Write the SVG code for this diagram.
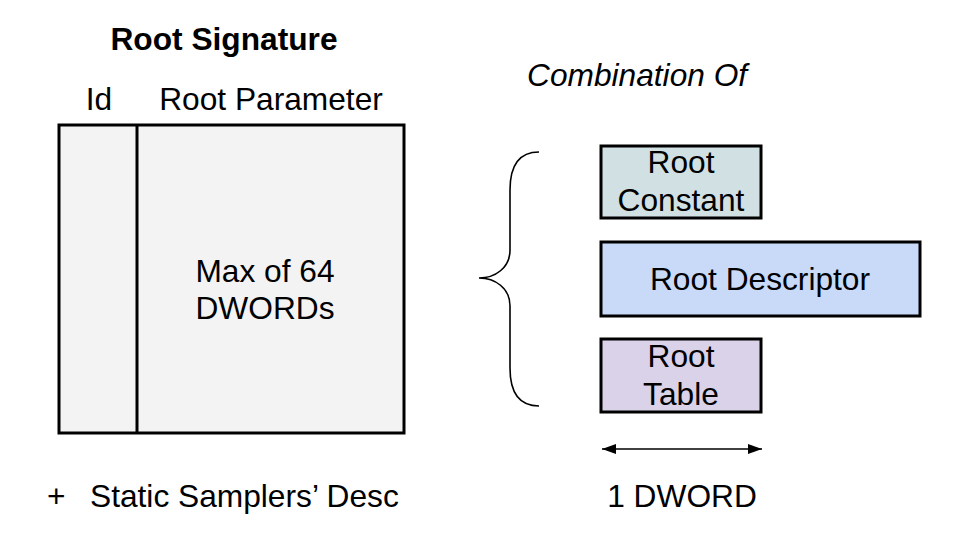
<svg xmlns="http://www.w3.org/2000/svg" width="958" height="553" viewBox="0 0 958 553">
<style>
text{font-family:"Liberation Sans",Arial,sans-serif;font-size:31.7px;fill:#000}
.c{text-anchor:middle}
.b{font-weight:bold}
.box{stroke:#000;stroke-width:3}
</style>
<defs>
<marker id="ah" viewBox="0 0 10 10" refX="10" refY="5" markerWidth="9" markerHeight="9" orient="auto-start-reverse" markerUnits="strokeWidth">
<path d="M0,1.5 L10,5 L0,8.5 Z" fill="#000"/>
</marker>
</defs>
<rect width="958" height="553" fill="#fff"/>
<g id="title"><text class="c b" x="224" y="50">Root Signature</text></g>
<g id="headers">
<text class="c" x="99" y="110">Id</text>
<text class="c" x="271" y="110">Root Parameter</text>
</g>
<g id="root-signature">
<rect class="box" x="59" y="125" width="345" height="308" fill="#f3f3f3"/>
<line class="box" x1="137" y1="125" x2="137" y2="433"/>
<text class="c" x="265" y="282">Max of 64</text>
<text class="c" x="265" y="319">DWORDs</text>
</g>
<g id="samplers"><text x="47" y="507">+<tspan x="90">Static Samplers’ Desc</tspan></text></g>
<g id="combination-label"><text x="527" y="86" font-style="italic" font-size="31.5">Combination Of</text></g>
<g id="root-constant">
<rect class="box" x="601" y="146" width="160" height="72" fill="#d0e0e3"/>
<text class="c" x="681" y="173">Root</text>
<text class="c" x="681" y="211">Constant</text>
</g>
<g id="root-descriptor">
<rect class="box" x="601" y="242" width="319" height="74" fill="#c9daf8"/>
<text class="c" x="760" y="290">Root Descriptor</text>
</g>
<g id="root-table">
<rect class="box" x="601" y="339" width="160" height="73" fill="#d9d2e9"/>
<text class="c" x="681" y="367">Root</text>
<text class="c" x="681" y="405">Table</text>
</g>
<g id="connectors">
<path d="M539,152 C520,152 510,165 510,190 L510,250 C510,268 495,278 479,278 C495,278 510,288 510,306 L510,368 C510,393 520,406 539,406" fill="none" stroke="#000" stroke-width="1.6"/>
<line x1="602" y1="449" x2="762" y2="449" stroke="#000" stroke-width="1.6" marker-start="url(#ah)" marker-end="url(#ah)"/>
</g>
<g id="dword-label"><text class="c" x="682" y="507">1 DWORD</text></g>
</svg>
